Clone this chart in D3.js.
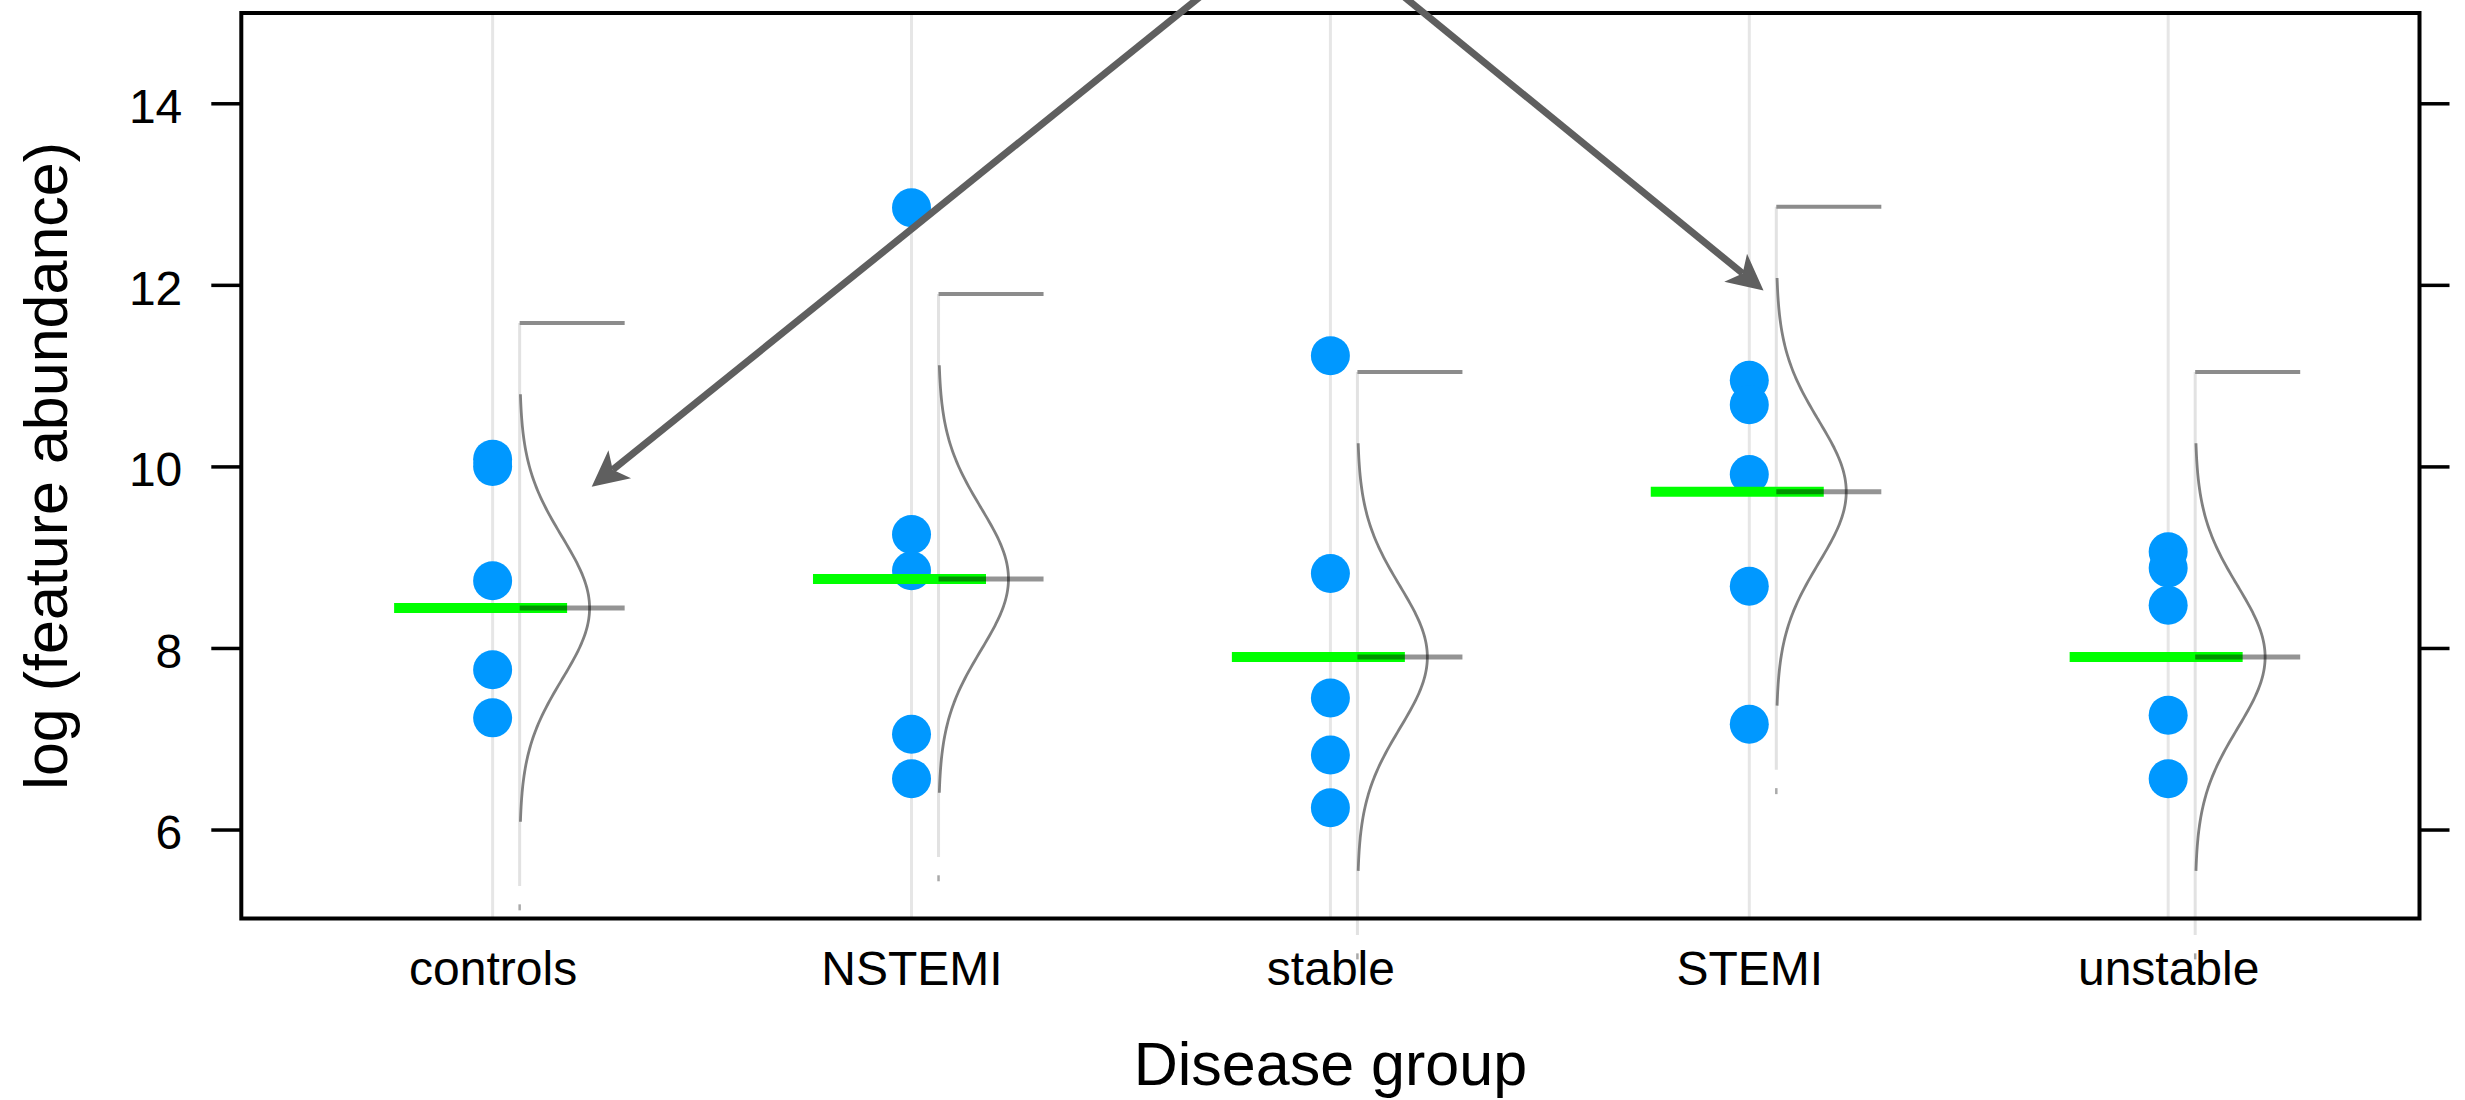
<!DOCTYPE html>
<html>
<head>
<meta charset="utf-8">
<script src="https://cdn.jsdelivr.net/npm/d3@7"></script>
<style>
body { margin: 0; background: #fff; }
svg { display: block; font-family: "Liberation Sans", Arial, Helvetica, sans-serif; }
</style>
</head>
<body>
<svg id="chart" width="2465" height="1100"></svg>
<script>
// disease groups on the x axis
var groups = ["controls", "NSTEMI", "stable", "STEMI", "unstable"];

// log (feature abundance) per sample, one list per group
var controls = [10.08, 10.0, 8.74, 7.76, 7.23];
var nstemi = [12.85, 9.25, 8.85, 7.05, 6.56];
var stable = [11.22, 8.82, 7.45, 6.82, 6.24];
var stemi = [10.95, 10.68, 9.91, 8.68, 7.16];
var unstable = [9.06, 8.88, 8.47, 7.26, 6.56];

// group estimates (green bars) and the common sd of the fitted curves
var means = [8.44, 8.76, 7.90, 9.72, 7.90];
var pooledSd = 0.785;

var yTicks = [6, 8, 10, 12, 14];

// annotation arrows, in data units: shared start point and two targets
var arrowFrom = [2.934, 16.085];
var arrowTo = [[1.2365, 9.776], [4.034, 11.938]];

var samples = [controls, nstemi, stable, stemi, unstable];

var svg = d3.select("#chart");
var pLeft = 241.3, pRight = 2419.5, pTop = 13, pBottom = 918.5;

var x = d3.scaleLinear().domain([0.4, 5.6]).range([pLeft, pRight]);
var y = d3.scaleLinear().domain([5.02, 15]).range([pBottom, 12.5]);

// offsets (x units) of the little curve next to each group
var curveOff = 0.0645, curveAmp = 0.167, barLen = 0.2507;
var greenOff = -0.0287, greenHalf = 0.2065;

var idx = d3.range(groups.length);

// light vertical guide at each group
svg.append("g").selectAll("line").data(idx).enter().append("line")
    .attr("x1", function(i){ return x(i + 1); })
    .attr("x2", function(i){ return x(i + 1); })
    .attr("y1", pTop)
    .attr("y2", pBottom)
    .attr("stroke", "#e6e6e6")
    .attr("stroke-width", 3);

// density pieces
var dens = svg.append("g");
dens.selectAll("line.base").data(idx).enter().append("line")
    .attr("class", "base")
    .attr("x1", function(i){ return x(i + 1 + curveOff); })
    .attr("x2", function(i){ return x(i + 1 + curveOff); })
    .attr("y1", function(i){ return y(means[i] + 4 * pooledSd); })
    .attr("y2", function(i){ return y(means[i] - 3.9 * pooledSd); })
    .attr("stroke", "#e2e2e2")
    .attr("stroke-width", 3);

dens.selectAll("line.tail").data(idx).enter().append("line")
    .attr("class", "tail")
    .attr("x1", function(i){ return x(i + 1 + curveOff); })
    .attr("x2", function(i){ return x(i + 1 + curveOff); })
    .attr("y1", function(i){ return y(means[i] - 4.2 * pooledSd) - 3; })
    .attr("y2", function(i){ return y(means[i] - 4.2 * pooledSd) + 3; })
    .attr("stroke", "#aaa")
    .attr("stroke-width", 2.5);

dens.selectAll("line.cap").data(idx).enter().append("line")
    .attr("class", "cap")
    .attr("x1", function(i){ return x(i + 1 + curveOff); })
    .attr("x2", function(i){ return x(i + 1 + curveOff + barLen); })
    .attr("y1", function(i){ return y(means[i] + 4 * pooledSd); })
    .attr("y2", function(i){ return y(means[i] + 4 * pooledSd); })
    .attr("stroke", "#8c8c8c")
    .attr("stroke-width", 4);

var zs = d3.range(-3, 3.0001, 0.05);
var curve = d3.line()
    .x(function(d){ return x(d[0]); })
    .y(function(d){ return y(d[1]); })
    .curve(d3.curveBasis);
dens.selectAll("path").data(idx).enter().append("path")
    .attr("d", function(i){
        return curve(zs.map(function(z){
            return [i + 1 + curveOff + curveAmp * Math.exp(-z * z / 2), means[i] + z * pooledSd];
        }));
    })
    .attr("fill", "none")
    .attr("stroke", "#808080")
    .attr("stroke-width", 2.8);

// sample points
var pts = [];
samples.forEach(function(vals, i){
    vals.forEach(function(v){ pts.push([i + 1, v]); });
});
svg.append("g").selectAll("circle").data(pts).enter().append("circle")
    .attr("cx", function(d){ return x(d[0]); })
    .attr("cy", function(d){ return y(d[1]); })
    .attr("r", 19.5)
    .attr("fill", "#0098ff");

// green group estimates
svg.append("g").selectAll("line").data(idx).enter().append("line")
    .attr("x1", function(i){ return x(i + 1 + greenOff - greenHalf); })
    .attr("x2", function(i){ return x(i + 1 + greenOff + greenHalf); })
    .attr("y1", function(i){ return y(means[i]); })
    .attr("y2", function(i){ return y(means[i]); })
    .attr("stroke", "#00ff00")
    .attr("stroke-width", 10);

// grey mean marker of the curve, see-through over the green
svg.append("g").selectAll("line").data(idx).enter().append("line")
    .attr("x1", function(i){ return x(i + 1 + curveOff); })
    .attr("x2", function(i){ return x(i + 1 + curveOff + barLen); })
    .attr("y1", function(i){ return y(means[i]); })
    .attr("y2", function(i){ return y(means[i]); })
    .attr("stroke", "#000")
    .attr("stroke-opacity", 0.42)
    .attr("stroke-width", 5);

// axes
var yAxisL = svg.append("g")
    .attr("transform", "translate(" + pLeft + ",0)")
    .call(d3.axisLeft(y).tickValues(yTicks).tickSize(30).tickPadding(29));
yAxisL.select(".domain").remove();
yAxisL.selectAll("line").attr("stroke", "#000").attr("stroke-width", 3.5);
yAxisL.selectAll("text")
    .attr("dy", "0.4em")
    .attr("fill", "#000")
    .style("font-size", "48px")
    .style("font-family", "'Liberation Sans', Arial, sans-serif");

var yAxisR = svg.append("g")
    .attr("transform", "translate(" + pRight + ",0)")
    .call(d3.axisRight(y).tickValues(yTicks).tickSize(30).tickFormat(""));
yAxisR.select(".domain").remove();
yAxisR.selectAll("line").attr("stroke", "#000").attr("stroke-width", 3.5);

var xAxis = svg.append("g")
    .attr("transform", "translate(0," + pBottom + ")")
    .call(d3.axisBottom(x).tickValues([1, 2, 3, 4, 5])
        .tickFormat(function(d){ return groups[d - 1]; })
        .tickSize(0).tickPadding(32.5));
xAxis.select(".domain").remove();
xAxis.selectAll("text")
    .attr("fill", "#000")
    .style("font-size", "48px")
    .style("font-family", "'Liberation Sans', Arial, sans-serif");

// plot frame
svg.append("rect")
    .attr("x", pLeft).attr("y", pTop)
    .attr("width", pRight - pLeft).attr("height", pBottom - pTop)
    .attr("fill", "none")
    .attr("stroke", "#000")
    .attr("stroke-width", 4);

// arrows
var arrows = svg.append("g");
arrowTo.forEach(function(t){
    var x0 = x(arrowFrom[0]), y0 = y(arrowFrom[1]);
    var x1 = x(t[0]), y1 = y(t[1]);
    var len = Math.sqrt((x0 - x1) * (x0 - x1) + (y0 - y1) * (y0 - y1));
    var ux = (x0 - x1) / len, uy = (y0 - y1) / len;   // tip -> start
    var px = -uy, py = ux;
    var notch = [x1 + ux * 27, y1 + uy * 27];
    arrows.append("line")
        .attr("x1", x0).attr("y1", y0)
        .attr("x2", notch[0]).attr("y2", notch[1])
        .attr("stroke", "#5f5f5f")
        .attr("stroke-width", 7);
    var head = [
        [x1, y1],
        [x1 + ux * 36 + px * 18, y1 + uy * 36 + py * 18],
        notch,
        [x1 + ux * 36 - px * 18, y1 + uy * 36 - py * 18]
    ];
    arrows.append("path")
        .attr("d", "M" + head.map(function(p){ return p[0] + "," + p[1]; }).join("L") + "Z")
        .attr("fill", "#5f5f5f");
});

// axis titles
svg.append("text")
    .attr("x", (pLeft + pRight) / 2)
    .attr("y", 1085)
    .attr("text-anchor", "middle")
    .style("font-size", "61px")
    .text("Disease group");

svg.append("text")
    .attr("transform", "translate(67," + ((pTop + pBottom) / 2) + ") rotate(-90)")
    .attr("text-anchor", "middle")
    .style("font-size", "61px")
    .text("log (feature abundance)");
</script>
</body>
</html>
